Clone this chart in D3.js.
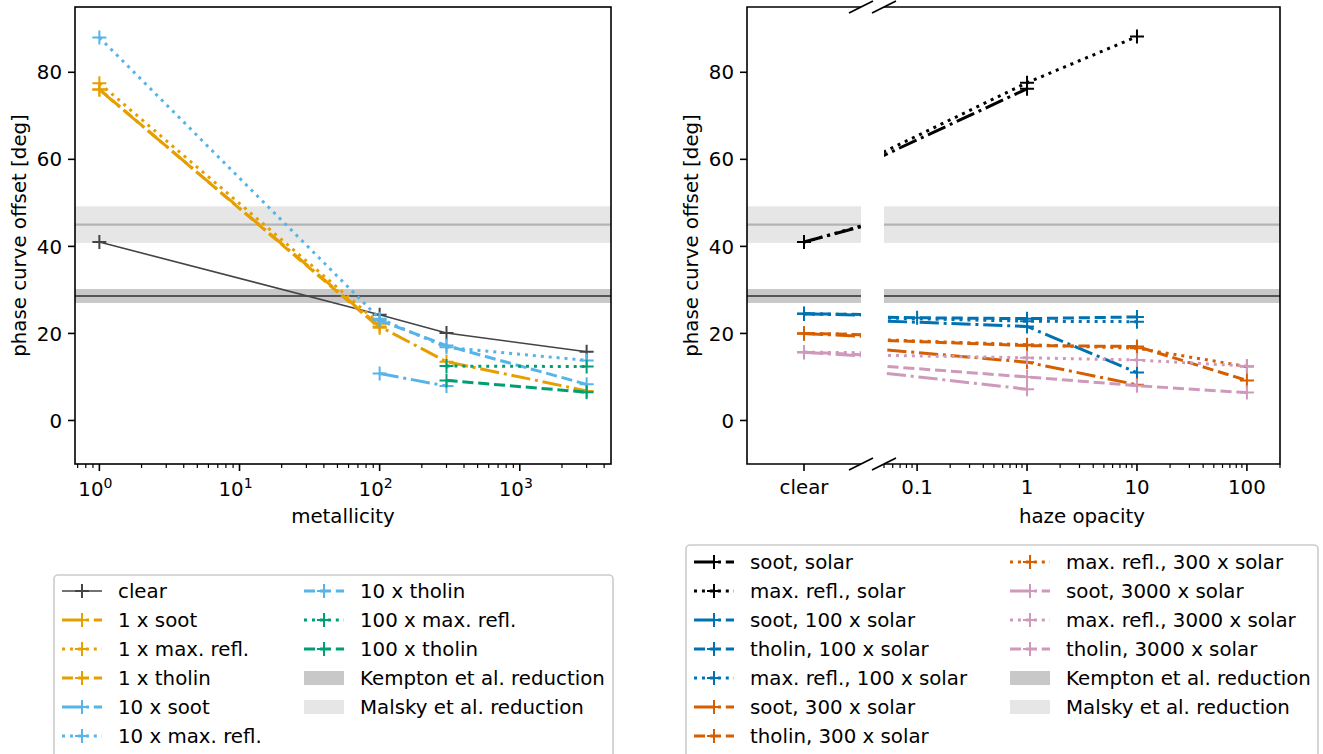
<!DOCTYPE html>
<html>
<head>
<meta charset="utf-8">
<script src="https://cdnjs.cloudflare.com/ajax/libs/d3/7.8.5/d3.min.js"></script>
<style>
body { margin: 0; background: #fff; }
svg text { font-family: "DejaVu Sans", sans-serif; fill: #000; }
</style>
</head>
<body>
<svg id="fig" width="1323" height="754"></svg>
<script>
// ---- data ----
const metallicity = [1, 100, 300, 3000];
const clearMet    = [41.0, 24.3, 20.1, 15.8];
const soot1       = [76.0, 21.6, 13.5, 6.8];
const maxrefl1    = [77.5, 22.2, null, null];
const tholin1     = [76.1, 21.3, null, null];
const soot10      = [null, 10.8, 7.9, null];
const maxrefl10   = [88.0, 23.4, 16.8, 13.8];
const tholin10    = [null, 23.0, 17.2, 8.3];
const maxrefl100  = [null, null, 12.5, 12.4];
const tholin100   = [null, null, 9.2, 6.5];

const hazeOpacity  = ["clear", 0.1, 1, 10, 100];
const sootSolar    = [41.0, null, 76.2, null, null];
const maxreflSolar = [41.0, null, 77.6, 88.2, null];
const soot100x     = [24.5, null, 21.6, 11.0, null];
const tholin100x   = [24.5, 23.6, 23.4, 23.8, null];
const maxrefl100x  = [24.5, null, 22.8, 22.7, null];
const soot300x     = [20.0, null, 13.4, 8.2, null];
const tholin300x   = [20.0, null, 17.2, 17.0, 9.2];
const maxrefl300x  = [20.0, null, 17.4, 16.6, 12.4];
const soot3000x    = [15.7, null, 7.2, null, null];
const maxrefl3000x = [15.7, null, 14.4, 13.9, 12.5];
const tholin3000x  = [15.7, null, 10.0, 8.0, 6.4];

const kempton = [27.0, 28.6, 30.2];   // low, centre, high
const malsky  = [40.8, 45.0, 49.2];

const yTicks = [0, 20, 40, 60, 80];
const metTicks = [1, 10, 100, 1000];
const hazeTicks = [0.1, 1, 10, 100];
const CLEAR_POS = 1e-3;   // where "clear" sits on the haze axis

// ---- styles ----
const C_CLEAR = "#444444", C_OR = "#e69f00", C_SKY = "#56b4e9", C_GRN = "#009e73";
const C_BLU = "#0072b2", C_VER = "#d55e00", C_PNK = "#cf99bb";
const DASH = { solid: null, dashdot: "19.2,4.8,3,4.8", dotted: "3,4.95", dashed: "11.1,4.8" };

const leftSeries = [
  { label: "clear", v: clearMet, c: C_CLEAR, ls: "solid", lw: 1.6 },
  { label: "1 x soot", v: soot1, c: C_OR, ls: "dashdot", lw: 3 },
  { label: "1 x max. refl.", v: maxrefl1, c: C_OR, ls: "dotted", lw: 3 },
  { label: "1 x tholin", v: tholin1, c: C_OR, ls: "dashed", lw: 3 },
  { label: "10 x soot", v: soot10, c: C_SKY, ls: "dashdot", lw: 3 },
  { label: "10 x max. refl.", v: maxrefl10, c: C_SKY, ls: "dotted", lw: 3 },
  { label: "10 x tholin", v: tholin10, c: C_SKY, ls: "dashed", lw: 3 },
  { label: "100 x max. refl.", v: maxrefl100, c: C_GRN, ls: "dotted", lw: 3 },
  { label: "100 x tholin", v: tholin100, c: C_GRN, ls: "dashed", lw: 3 }
];
const rightSeries = [
  { label: "soot, solar", v: sootSolar, c: "#000", ls: "dashdot", lw: 3 },
  { label: "max. refl., solar", v: maxreflSolar, c: "#000", ls: "dotted", lw: 3 },
  { label: "soot, 100 x solar", v: soot100x, c: C_BLU, ls: "dashdot", lw: 3 },
  { label: "tholin, 100 x solar", v: tholin100x, c: C_BLU, ls: "dashed", lw: 3 },
  { label: "max. refl., 100 x solar", v: maxrefl100x, c: C_BLU, ls: "dotted", lw: 3 },
  { label: "soot, 300 x solar", v: soot300x, c: C_VER, ls: "dashdot", lw: 3 },
  { label: "tholin, 300 x solar", v: tholin300x, c: C_VER, ls: "dashed", lw: 3 },
  { label: "max. refl., 300 x solar", v: maxrefl300x, c: C_VER, ls: "dotted", lw: 3 },
  { label: "soot, 3000 x solar", v: soot3000x, c: C_PNK, ls: "dashdot", lw: 3 },
  { label: "max. refl., 3000 x solar", v: maxrefl3000x, c: C_PNK, ls: "dotted", lw: 3 },
  { label: "tholin, 3000 x solar", v: tholin3000x, c: C_PNK, ls: "dashed", lw: 3 }
];
const bandItems = [
  { label: "Kempton et al. reduction", fill: "#c8c8c8" },
  { label: "Malsky et al. reduction", fill: "#e6e6e6" }
];

const FS = 19.8;
const svg = d3.select("#fig");
const defs = svg.append("defs");

const yTop = 7, yBot = 464;
const y = d3.scaleLinear().domain([-10, 95]).range([yBot, yTop]);

const xMet = d3.scaleLog().domain([Math.pow(10, -0.1739), Math.pow(10, 3.651)]).range([75, 611]);
const xClear = d3.scaleLog().domain([5e-4, 2e-3]).range([747, 861]);
const xHaze = d3.scaleLog().domain([0.05, 200]).range([884, 1280]);

const plus = "M-7,0H7M0,-7V7";

function panel(id, x) {
  const r = x.range();
  defs.append("clipPath").attr("id", id).append("rect")
    .attr("x", r[0]).attr("y", yTop).attr("width", r[1] - r[0]).attr("height", yBot - yTop);
  return svg.append("g").attr("clip-path", `url(#${id})`);
}

function bands(g, x) {
  const r = x.range();
  [[malsky, "#e6e6e6", "#b3b3b3"], [kempton, "#c8c8c8", "#555555"]].forEach(([b, fill, line]) => {
    g.append("rect").attr("x", r[0]).attr("width", r[1] - r[0])
      .attr("y", y(b[2])).attr("height", y(b[0]) - y(b[2])).attr("fill", fill);
    g.append("line").attr("x1", r[0]).attr("x2", r[1])
      .attr("y1", y(b[1])).attr("y2", y(b[1])).attr("stroke", line).attr("stroke-width", 2.2);
  });
}

function series(g, x, xs, list) {
  const line = d3.line().x(d => x(d[0])).y(d => y(d[1]));
  list.forEach(s => {
    const pts = xs.map((xv, i) => [xv, s.v[i]]).filter(p => p[1] != null);
    g.append("path").attr("d", line(pts)).attr("fill", "none")
      .attr("stroke", s.c).attr("stroke-width", s.lw)
      .attr("stroke-dasharray", DASH[s.ls]);
    g.selectAll(null).data(pts).enter().append("path")
      .attr("transform", d => `translate(${x(d[0])},${y(d[1])})`)
      .attr("d", plus).attr("stroke", s.c).attr("stroke-width", 2).attr("fill", "none");
  });
}

function yAxis(xpos, labelX) {
  const g = svg.append("g");
  yTicks.forEach(t => {
    g.append("line").attr("x1", xpos - 7).attr("x2", xpos).attr("y1", y(t)).attr("y2", y(t))
      .attr("stroke", "#000").attr("stroke-width", 1.6);
    g.append("text").attr("x", xpos - 13).attr("y", y(t)).attr("dy", "0.36em")
      .attr("text-anchor", "end").style("font-size", FS + "px").text(t);
  });
  g.append("text").attr("transform", `translate(${labelX},${(yTop + yBot) / 2}) rotate(-90)`)
    .attr("text-anchor", "middle").style("font-size", FS + "px").text("phase curve offset [deg]");
}

function minorLog(x, decades) {
  const out = [];
  const d = x.domain();
  decades.forEach(p => {
    for (let k = 1; k <= 9; k++) {
      const v = k * Math.pow(10, p);
      if (v >= d[0] * 0.9999 && v <= d[1] * 1.0001) out.push(v);
    }
  });
  return out;
}

function xTicksDraw(x, major, minor) {
  const g = svg.append("g");
  minor.forEach(v => g.append("line").attr("x1", x(v)).attr("x2", x(v))
    .attr("y1", yBot).attr("y2", yBot + 4).attr("stroke", "#000").attr("stroke-width", 1.2));
  major.forEach(v => g.append("line").attr("x1", x(v)).attr("x2", x(v))
    .attr("y1", yBot).attr("y2", yBot + 7).attr("stroke", "#000").attr("stroke-width", 1.6));
  return g;
}

// ---------- left panel: metallicity ----------
const gL = panel("clipL", xMet);
bands(gL, xMet);
series(gL, xMet, metallicity, leftSeries);
svg.append("rect").attr("x", 75).attr("y", yTop).attr("width", 611 - 75).attr("height", yBot - yTop)
  .attr("fill", "none").attr("stroke", "#000").attr("stroke-width", 1.6);
yAxis(75, 26);
const gtL = xTicksDraw(xMet, metTicks, minorLog(xMet, [-1, 0, 1, 2, 3]).filter(v => !metTicks.includes(v)));
metTicks.forEach((v, i) => {
  const t = gtL.append("text").attr("x", xMet(v) - 4).attr("y", 496).attr("text-anchor", "middle")
    .style("font-size", FS + "px");
  t.append("tspan").text("10");
  t.append("tspan").attr("dy", -8).style("font-size", "14px").text(i);
});
svg.append("text").attr("x", (75 + 611) / 2).attr("y", 523).attr("text-anchor", "middle")
  .style("font-size", FS + "px").text("metallicity");

// ---------- right panel: haze opacity (broken axis) ----------
const hazeX = hazeOpacity.map(h => h === "clear" ? CLEAR_POS : h);
const gA = panel("clipA", xClear);
bands(gA, xClear);
series(gA, xClear, hazeX, rightSeries);
const gB = panel("clipB", xHaze);
bands(gB, xHaze);
series(gB, xHaze, hazeX, rightSeries);

svg.append("path").attr("d", `M${xClear.range()[1]},${yTop}H${xClear.range()[0]}V${yBot}H${xClear.range()[1]}`)
  .attr("fill", "none").attr("stroke", "#000").attr("stroke-width", 1.6);
svg.append("path").attr("d", `M${xHaze.range()[0]},${yTop}H${xHaze.range()[1]}V${yBot}H${xHaze.range()[0]}`)
  .attr("fill", "none").attr("stroke", "#000").attr("stroke-width", 1.6);
[xClear.range()[1], xHaze.range()[0]].forEach(bx => {
  [yTop, yBot].forEach(by => {
    svg.append("line").attr("x1", bx - 12).attr("y1", by + 6).attr("x2", bx + 12).attr("y2", by - 6)
      .attr("stroke", "#000").attr("stroke-width", 1.6);
  });
});
yAxis(747, 698);
const gtA = xTicksDraw(xClear, [CLEAR_POS], []);
gtA.append("text").attr("x", xClear(CLEAR_POS)).attr("y", 494).attr("text-anchor", "middle")
  .style("font-size", FS + "px").text("clear");
const gtB = xTicksDraw(xHaze, hazeTicks, minorLog(xHaze, [-2, -1, 0, 1, 2]).filter(v => !hazeTicks.includes(v)));
hazeTicks.forEach(v => gtB.append("text").attr("x", xHaze(v)).attr("y", 494).attr("text-anchor", "middle")
  .style("font-size", FS + "px").text(v));
svg.append("text").attr("x", (884 + 1280) / 2).attr("y", 523).attr("text-anchor", "middle")
  .style("font-size", FS + "px").text("haze opacity");

// ---------- legends ----------
function legend(box, cols, items) {
  const g = svg.append("g");
  g.append("rect").attr("x", box.x).attr("y", box.y).attr("width", box.w).attr("height", 300)
    .attr("rx", 4).attr("fill", "#fff").attr("stroke", "#cccccc").attr("stroke-width", 1.6);
  items.forEach((it, i) => {
    const col = i < cols.n ? 0 : 1;
    const row = col ? i - cols.n : i;
    const cy = box.row0 + row * 29;
    const hx = cols.hx[col];
    if (it.fill) {
      g.append("rect").attr("x", hx).attr("y", cy - 7).attr("width", 40).attr("height", 14).attr("fill", it.fill);
    } else {
      g.append("line").attr("x1", hx).attr("x2", hx + 40).attr("y1", cy).attr("y2", cy)
        .attr("stroke", it.c).attr("stroke-width", it.lw).attr("stroke-dasharray", DASH[it.ls]);
      g.append("path").attr("transform", `translate(${hx + 20},${cy})`).attr("d", plus)
        .attr("stroke", it.c).attr("stroke-width", 2).attr("fill", "none");
    }
    g.append("text").attr("x", hx + 56).attr("y", cy).attr("dy", "0.36em")
      .style("font-size", FS + "px").text(it.label);
  });
}
legend({ x: 54, y: 575, w: 559, row0: 591 }, { n: 6, hx: [62, 304] }, leftSeries.concat(bandItems));
legend({ x: 686, y: 545, w: 632, row0: 562 }, { n: 7, hx: [694, 1010] }, rightSeries.concat(bandItems));
</script>
</body>
</html>
